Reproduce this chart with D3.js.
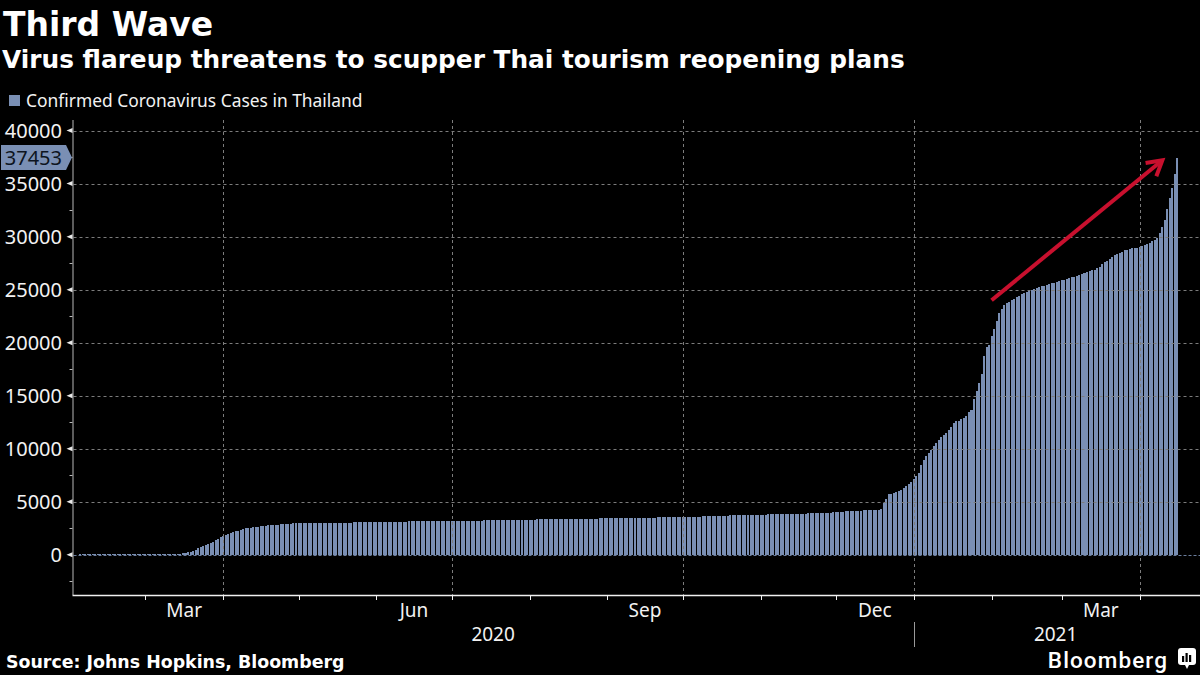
<!DOCTYPE html>
<html><head><meta charset="utf-8">
<script src="https://cdn.jsdelivr.net/npm/d3@7"></script>
<style>
html,body{margin:0;padding:0;background:#000;}
svg{display:block;}
</style></head>
<body>
<svg id="chart" width="1200" height="675"></svg>
<script>
// ---------- data ----------
const titleText = "Third Wave";
const subtitleText = "Virus flareup threatens to scupper Thai tourism reopening plans";
const seriesName = "Confirmed Coronavirus Cases in Thailand";
const sourceText = "Source: Johns Hopkins, Bloomberg";
const brandText = "Bloomberg";

const firstDate = "2020-02-01";
// cumulative confirmed cases, one value per day from firstDate
const dailyCases = [
  // Feb 2020
  19,19,19,25,25,25,25,32,32,32,33,33,33,33,33,34,35,35,35,35,35,35,35,37,40,40,41,42,42,
  // Mar 2020
  42,43,43,43,47,48,50,50,50,53,59,70,75,82,114,147,177,212,272,322,411,599,721,827,934,1045,1136,1245,1388,1524,1651,
  // Apr 2020
  1771,1875,1978,2067,2169,2220,2258,2369,2423,2473,2518,2551,2579,2613,2643,2672,2700,2733,2765,2792,2811,2826,2839,2854,2907,2922,2931,2938,2947,2954,
  // May 2020
  2960,2966,2969,2987,2988,2989,2992,3000,3004,3009,3015,3017,3018,3025,3025,3025,3026,3031,3033,3034,3037,3037,3040,3042,3042,3045,3054,3065,3071,3076,3077,
  // Jun 2020
  3081,3083,3084,3101,3102,3104,3112,3119,3121,3125,3125,3125,3129,3134,3135,3135,3135,3141,3146,3148,3151,3151,3156,3157,3158,3158,3162,3162,3169,3171,
  // Jul 2020
  3173,3179,3180,3182,3185,3195,3202,3205,3215,3216,3217,3219,3220,3227,3232,3236,3239,3240,3245,3249,3250,3254,3255,3269,3273,3279,3279,3291,3297,3298,3310,
  // Aug 2020
  3311,3317,3320,3321,3328,3330,3335,3341,3344,3344,3351,3351,3356,3359,3361,3377,3378,3378,3381,3389,3390,3395,3397,3402,3407,3409,3411,3412,3417,3423,3425,
  // Sep 2020
  3427,3432,3439,3444,3445,3454,3454,3458,3467,3469,3475,3480,3480,3490,3491,3493,3497,3500,3504,3505,3511,3514,3516,3519,3519,3530,3540,3545,3559,3564,
  // Oct 2020
  3569,3575,3579,3590,3592,3597,3600,3600,3615,3622,3628,3636,3642,3652,3664,3669,3679,3686,3691,3700,3709,3712,3719,3727,3734,3743,3753,3759,3766,3775,3780,
  // Nov 2020
  3784,3787,3790,3797,3801,3804,3806,3810,3813,3826,3833,3837,3843,3852,3857,3867,3875,3880,3885,3892,3896,3902,3910,3920,3929,3934,3946,3961,3971,3998,
  // Dec 2020
  4009,4028,4038,4056,4077,4095,4107,4128,4142,4151,4169,4182,4192,4209,4214,4237,4246,4261,4331,4907,5289,5716,5762,5840,5910,6020,6141,6285,6440,6690,6884,
  // Jan 2021
  7163,7379,7694,8439,8966,9331,9636,9841,10298,10547,10834,11141,11262,11450,11809,12054,12423,12594,12653,12795,12854,13104,13500,13687,14646,15465,16221,17023,18782,19618,19771,
  // Feb 2021
  20615,21249,22058,22794,23134,23557,23745,23881,23996,24104,24279,24431,24571,24714,24783,24850,24962,25034,25111,25213,25323,25365,25415,25541,25592,25647,25693,25792,
  // Mar 2021
  25865,25951,26031,26108,26162,26221,26301,26370,26438,26598,26679,26738,26811,26873,27000,27154,27377,27577,27668,27937,28055,28236,28346,28456,28577,28734,28773,28863,28889,28924,28973,
  // Apr 2021
  29000,29127,29214,29321,29405,29575,29700,29905,30310,30869,31597,32625,33610,34575,35910,37453
];

const xDomain = ["2020-02-01", "2021-04-24"];
const yDomain = [-3800, 41000];
const yTicks = [0, 5000, 10000, 15000, 20000, 25000, 30000, 35000, 40000];
const yMinorTicks = [-2500, 2500, 7500, 12500, 17500, 22500, 27500, 32500, 37500];
const monthLabels = [["2020-03-01", "Mar"], ["2020-06-01", "Jun"], ["2020-09-01", "Sep"], ["2020-12-01", "Dec"], ["2021-03-01", "Mar"]];
const yearLabels = [["2020", "2020-02-01", "2021-01-01"], ["2021", "2021-01-01", "2021-04-24"]];
const yearSeparators = ["2021-01-01"];
const quarterGrid = ["2020-04-01", "2020-07-01", "2020-10-01", "2021-01-01", "2021-04-01"];
const arrowFrom = ["2021-02-01", 24000];
const arrowTo = ["2021-04-10", 37200];

// ---------- setup ----------
const parse = d3.timeParse("%Y-%m-%d");
const start = parse(firstDate);
const data = dailyCases.map((v, i) => ({ date: d3.timeDay.offset(start, i), value: v }));
const lastPoint = data[data.length - 1];

const svg = d3.select("#chart");
const W = 1200, H = 675;
const plot = { left: 72.5, right: 1197.5, top: 120, bottom: 595 };

const x = d3.scaleTime().domain(xDomain.map(parse)).range([plot.left, plot.right]);
const y = d3.scaleLinear().domain(yDomain).range([plot.bottom, plot.top]);

const barColor = "#7a8fb4";
const gridColor = "#7c7c7c";
const textColor = "#f2f2f2";
const labelFont = "'Noto Sans', 'Open Sans', sans-serif";

svg.append("rect").attr("width", W).attr("height", H).attr("fill", "#000");

// ---------- titles ----------
svg.append("text").attr("x", 3).attr("y", 36)
  .attr("font-family", "'DejaVu Sans', sans-serif").attr("font-weight", "bold")
  .attr("font-size", 33).attr("fill", "#fff").text(titleText);
svg.append("text").attr("x", 2).attr("y", 68)
  .attr("font-family", "'DejaVu Sans', sans-serif").attr("font-weight", "bold")
  .attr("font-size", 24.8).attr("fill", "#fff").text(subtitleText);

// legend
svg.append("rect").attr("x", 9).attr("y", 95).attr("width", 11).attr("height", 11).attr("fill", barColor);
svg.append("text").attr("x", 26).attr("y", 106.5)
  .attr("font-family", labelFont).attr("font-size", 17.4).attr("fill", textColor).text(seriesName);

// ---------- bars ----------
const pitch = x(d3.timeDay.offset(start, 1)) - x(start);
const bw = pitch * 0.8;
svg.append("g").attr("shape-rendering", "crispEdges")
  .selectAll("rect").data(data).join("rect")
  .attr("x", d => x(d.date) - bw / 2)
  .attr("width", bw)
  .attr("y", d => y(Math.max(0, d.value)))
  .attr("height", d => Math.max(0, y(0) - y(d.value)))
  .attr("fill", barColor);

// ---------- grid ----------
const grid = svg.append("g");
grid.selectAll("line.h").data(yTicks.filter(t => t !== 0)).join("line")
  .attr("x1", plot.left + 1).attr("x2", W)
  .attr("y1", d => Math.round(y(d)) + 0.5).attr("y2", d => Math.round(y(d)) + 0.5)
  .attr("stroke", gridColor).attr("stroke-width", 1).attr("stroke-dasharray", "3,3");
grid.selectAll("line.v").data(quarterGrid).join("line")
  .attr("x1", d => Math.round(x(parse(d))) + 0.5).attr("x2", d => Math.round(x(parse(d))) + 0.5)
  .attr("y1", plot.top).attr("y2", plot.bottom)
  .attr("stroke", gridColor).attr("stroke-width", 1).attr("stroke-dasharray", "3,3");
// zero line
grid.append("line")
  .attr("x1", plot.left + 1).attr("x2", W)
  .attr("y1", Math.round(y(0)) + 0.5).attr("y2", Math.round(y(0)) + 0.5)
  .attr("stroke", "#6a7d9c").attr("stroke-width", 1).attr("stroke-dasharray", "3,2");

// ---------- y axis ----------
const yAxisG = svg.append("g");
yAxisG.append("line").attr("x1", plot.left + 0.5).attr("x2", plot.left + 0.5)
  .attr("y1", plot.top).attr("y2", plot.bottom).attr("stroke", "#b8b8b8").attr("stroke-width", 1);
yAxisG.selectAll("path.tri").data(yTicks).join("path")
  .attr("d", d => { const yy = y(d); return `M${plot.left},${yy - 2.5}L${plot.left - 6},${yy}L${plot.left},${yy + 2.5}Z`; })
  .attr("fill", "#e8e8e8");
yAxisG.selectAll("line.minor").data(yMinorTicks).join("line")
  .attr("x1", plot.left - 3).attr("x2", plot.left)
  .attr("y1", d => Math.round(y(d)) + 0.5).attr("y2", d => Math.round(y(d)) + 0.5)
  .attr("stroke", "#b8b8b8");
yAxisG.selectAll("text").data(yTicks).join("text")
  .attr("x", 62).attr("y", d => y(d)).attr("dy", "0.36em")
  .attr("text-anchor", "end").attr("font-family", labelFont).attr("font-size", 20)
  .attr("fill", textColor).text(d => d);

// last value badge
const by = y(lastPoint.value);
svg.append("path")
  .attr("d", `M1,${by - 12.5}L66,${by - 12.5}L72,${by}L66,${by + 12.5}L1,${by + 12.5}Z`)
  .attr("fill", barColor);
svg.append("text").attr("x", 62).attr("y", by).attr("dy", "0.36em")
  .attr("text-anchor", "end").attr("font-family", labelFont).attr("font-size", 20)
  .attr("fill", "#0d1420").text(lastPoint.value);

// ---------- x axis ----------
const xAxisG = svg.append("g");
xAxisG.append("line").attr("x1", plot.left).attr("x2", W)
  .attr("y1", plot.bottom + 0.5).attr("y2", plot.bottom + 0.5)
  .attr("stroke", "#f0f0f0").attr("stroke-width", 1.5);
const monthTicks = d3.timeMonth.range(parse("2020-03-01"), parse("2021-04-02"));
xAxisG.selectAll("line.tick").data(monthTicks).join("line")
  .attr("x1", d => Math.round(x(d)) + 0.5).attr("x2", d => Math.round(x(d)) + 0.5)
  .attr("y1", plot.bottom).attr("y2", plot.bottom + 5)
  .attr("stroke", "#f0f0f0").attr("stroke-width", 1);
xAxisG.selectAll("text.month").data(monthLabels).join("text")
  .attr("x", d => { const m = parse(d[0]); return (x(m) + x(d3.timeMonth.offset(m, 1))) / 2; })
  .attr("y", 617).attr("text-anchor", "middle")
  .attr("font-family", labelFont).attr("font-size", 19).attr("fill", textColor)
  .text(d => d[1]);
xAxisG.selectAll("text.year").data(yearLabels).join("text")
  .attr("x", d => (x(parse(d[1])) + x(parse(d[2]))) / 2)
  .attr("y", 640.5).attr("text-anchor", "middle")
  .attr("font-family", labelFont).attr("font-size", 19).attr("fill", textColor)
  .text(d => d[0]);
xAxisG.selectAll("line.sep").data(yearSeparators).join("line")
  .attr("x1", d => Math.round(x(parse(d))) + 0.5).attr("x2", d => Math.round(x(parse(d))) + 0.5)
  .attr("y1", 622).attr("y2", 647).attr("stroke", "#9a9a9a").attr("stroke-width", 1);

// ---------- annotation arrow ----------
const ax1 = x(parse(arrowFrom[0])), ay1 = y(arrowFrom[1]);
const ax2 = x(parse(arrowTo[0])), ay2 = y(arrowTo[1]);
const ang = Math.atan2(ay2 - ay1, ax2 - ax1);
const headLen = 17, headAng = 30 * Math.PI / 180;
const h1 = [ax2 - headLen * Math.cos(ang - headAng), ay2 - headLen * Math.sin(ang - headAng)];
const h2 = [ax2 - headLen * Math.cos(ang + headAng), ay2 - headLen * Math.sin(ang + headAng)];
const arrowColor = "#c8102e";
svg.append("line").attr("x1", ax1).attr("y1", ay1).attr("x2", ax2 - 2 * Math.cos(ang)).attr("y2", ay2 - 2 * Math.sin(ang))
  .attr("stroke", arrowColor).attr("stroke-width", 4);
svg.append("path").attr("d", `M${h1[0]},${h1[1]}L${ax2},${ay2}L${h2[0]},${h2[1]}`)
  .attr("fill", "none").attr("stroke", arrowColor).attr("stroke-width", 4).attr("stroke-linejoin", "miter");

// ---------- footer ----------
svg.append("text").attr("x", 6).attr("y", 668)
  .attr("font-family", "'DejaVu Sans', sans-serif").attr("font-weight", "bold")
  .attr("font-size", 17.4).attr("fill", "#fff").text(sourceText);
svg.append("text").attr("x", 1168).attr("y", 668).attr("text-anchor", "end")
  .attr("font-family", "Roboto, sans-serif").attr("font-weight", 500)
  .attr("font-size", 22.5).attr("letter-spacing", 1.1).attr("fill", "#fff").text(brandText);
const logo = svg.append("g").attr("transform", "translate(1178,648)");
logo.append("rect").attr("width", 18).attr("height", 17).attr("rx", 3).attr("fill", "#fff");
logo.append("path").attr("d", "M7,17L9,21L11,17Z").attr("fill", "#fff");
[[4, 8, 6], [7.5, 5, 9], [11, 7, 7]].forEach(b => {
  logo.append("rect").attr("x", b[0]).attr("y", b[1]).attr("width", 2.2).attr("height", b[2]).attr("fill", "#000");
});
</script>
</body></html>
